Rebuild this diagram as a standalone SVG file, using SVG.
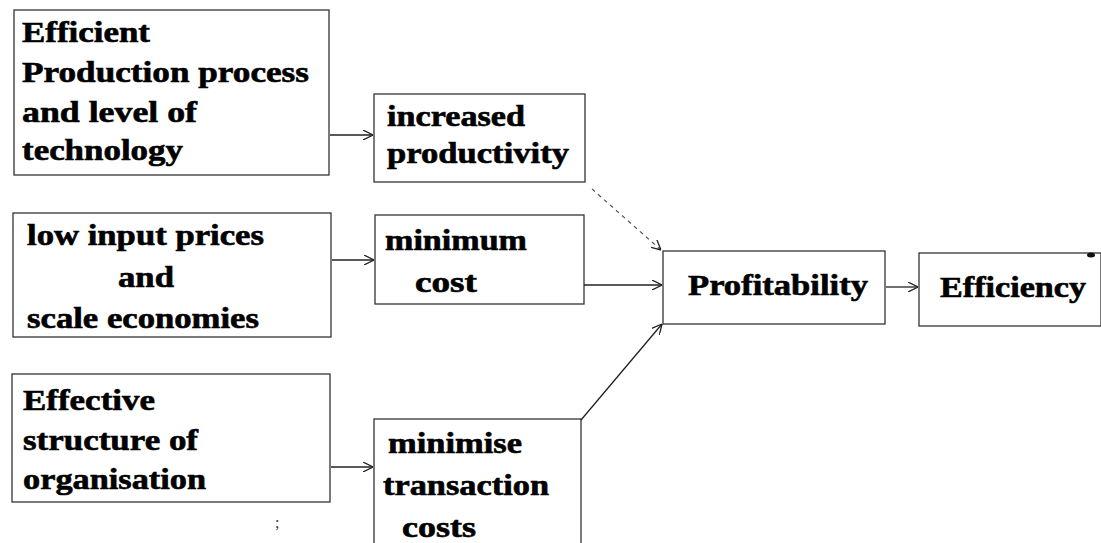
<svg xmlns="http://www.w3.org/2000/svg" width="1101" height="543" viewBox="0 0 1101 543">
<defs>
<marker id="arr" viewBox="0 0 10 10" refX="10" refY="5" markerWidth="10" markerHeight="10" markerUnits="userSpaceOnUse" orient="auto">
<path d="M0,0 L10,5 L0,10" fill="none" stroke="#222" stroke-width="1.3"/>
</marker>
</defs>
<style>
.box{fill:none;stroke:#333;stroke-width:1.3}
.t{font-family:"Liberation Serif","Times New Roman",serif;font-weight:bold;font-size:29px;fill:#000;stroke:#000;stroke-width:0.6}
.c{fill:none;stroke:#222;stroke-width:1.3}
.d{fill:none;stroke:#555;stroke-width:1.2;stroke-dasharray:4 4}
</style>
<rect x="0" y="0" width="1101" height="543" fill="#fff"/>
<g id="n1">
<rect class="box" x="14" y="10" width="315" height="165"/>
<text class="t" x="22" y="42" textLength="128" lengthAdjust="spacingAndGlyphs">Efficient</text>
<text class="t" x="22" y="82" textLength="287" lengthAdjust="spacingAndGlyphs">Production process</text>
<text class="t" x="22" y="122" textLength="175" lengthAdjust="spacingAndGlyphs">and level of</text>
<text class="t" x="22" y="160" textLength="161" lengthAdjust="spacingAndGlyphs">technology</text>
</g>
<g id="n2">
<rect class="box" x="374" y="94" width="211" height="88"/>
<text class="t" x="387" y="126" textLength="138" lengthAdjust="spacingAndGlyphs">increased</text>
<text class="t" x="387" y="163" textLength="182" lengthAdjust="spacingAndGlyphs">productivity</text>
</g>
<g id="n3">
<rect class="box" x="13" y="213" width="318" height="124"/>
<text class="t" x="27" y="245" textLength="237" lengthAdjust="spacingAndGlyphs">low input prices</text>
<text class="t" x="118" y="287" textLength="56" lengthAdjust="spacingAndGlyphs">and</text>
<text class="t" x="27" y="328" textLength="232" lengthAdjust="spacingAndGlyphs">scale economies</text>
</g>
<g id="n4">
<rect class="box" x="375" y="215" width="209" height="89"/>
<text class="t" x="385" y="250" textLength="142" lengthAdjust="spacingAndGlyphs">minimum</text>
<text class="t" x="415" y="292" textLength="62" lengthAdjust="spacingAndGlyphs">cost</text>
</g>
<g id="n5">
<rect class="box" x="12" y="374" width="318" height="128"/>
<text class="t" x="23" y="410" textLength="132" lengthAdjust="spacingAndGlyphs">Effective</text>
<text class="t" x="23" y="450" textLength="175" lengthAdjust="spacingAndGlyphs">structure of</text>
<text class="t" x="23" y="489" textLength="183" lengthAdjust="spacingAndGlyphs">organisation</text>
</g>
<g id="n6">
<rect class="box" x="374" y="419" width="207" height="135"/>
<text class="t" x="388" y="453" textLength="134" lengthAdjust="spacingAndGlyphs">minimise</text>
<text class="t" x="383" y="495" textLength="166" lengthAdjust="spacingAndGlyphs">transaction</text>
<text class="t" x="402" y="537" textLength="74" lengthAdjust="spacingAndGlyphs">costs</text>
</g>
<g id="n7">
<rect class="box" x="663" y="251" width="222" height="73"/>
<text class="t" x="688" y="295" textLength="180" lengthAdjust="spacingAndGlyphs">Profitability</text>
</g>
<g id="n8">
<rect class="box" x="919" y="253" width="182" height="73"/>
<text class="t" x="940" y="297" textLength="146" lengthAdjust="spacingAndGlyphs">Efficiency</text>
<ellipse cx="1091" cy="255" rx="4" ry="2.5" fill="#111"/>
</g>
<g id="connectors">
<line class="c" x1="330" y1="135" x2="373" y2="135" marker-end="url(#arr)"/>
<line class="c" x1="332" y1="260" x2="374" y2="260" marker-end="url(#arr)"/>
<line class="c" x1="331" y1="467" x2="373" y2="467" marker-end="url(#arr)"/>
<line class="d" x1="592" y1="189" x2="661" y2="250" marker-end="url(#arr)"/>
<line class="c" x1="584" y1="285" x2="662" y2="285" marker-end="url(#arr)"/>
<line class="c" x1="581" y1="420" x2="662" y2="324" marker-end="url(#arr)"/>
<line class="c" x1="886" y1="287" x2="918" y2="287" marker-end="url(#arr)"/>
</g>
<text x="275" y="528" style="font-family:'Liberation Serif',serif;font-size:16px;fill:#333">;</text>
</svg>
